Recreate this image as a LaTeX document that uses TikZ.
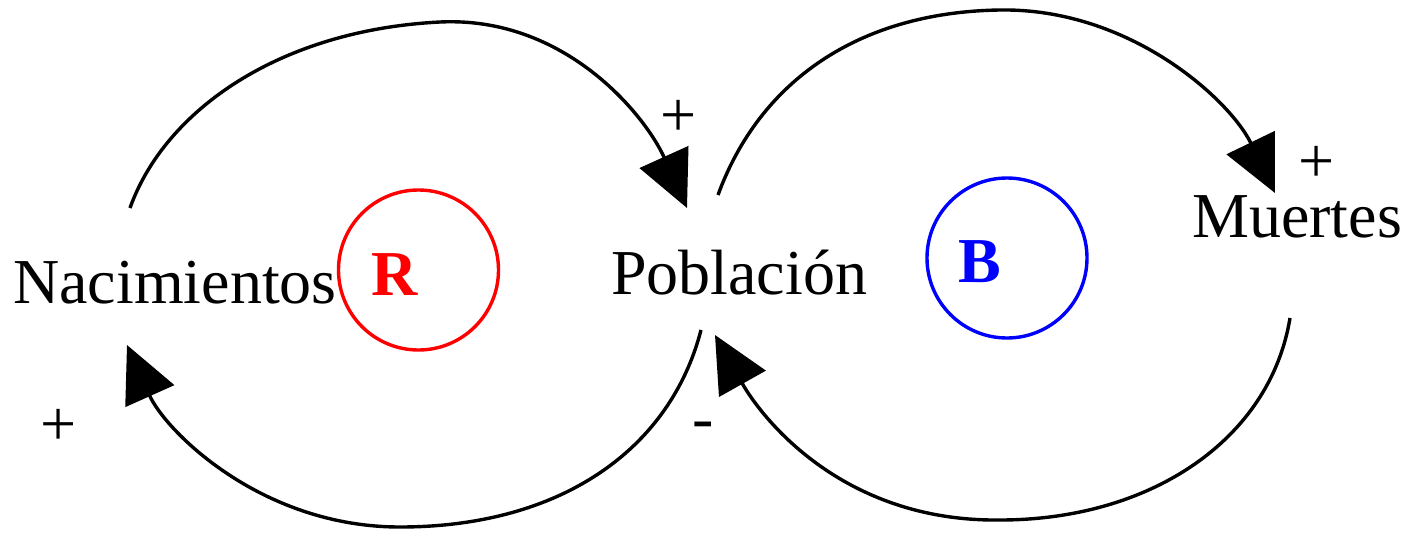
\documentclass[tikz,border=0pt]{standalone}
\usepackage{fontspec}
\setmainfont{Liberation Serif}
\usetikzlibrary{arrows.meta}
\begin{document}
\begin{tikzpicture}[x=1pt,y=-1pt,
  lbl/.style={inner sep=0pt,anchor=base west,font=\fontsize{64}{70}\selectfont},
  looplbl/.style={lbl,font=\fontsize{64}{70}\selectfont\bfseries},
  link/.style={line width=3.4pt,-{Triangle[length=56pt,width=53pt]}},
  loopc/.style={circle,line width=3.4pt,minimum size=160pt,inner sep=0pt}]
\useasboundingbox (0,0) rectangle (1414,533);
% variables
\node[lbl] (nac) at (13,303) {Nacimientos};
\node[lbl] (pob) at (611,294) {Población};
\node[lbl] (mue) at (1192,237) {Muertes};
% loop markers
\node[loopc,draw=red] (rc) at (418.5,270) {};
\node[looplbl,text=red] (rl) at (371,295) {R};
\node[loopc,draw=blue] (bc) at (1007,258) {};
\node[looplbl,text=blue] (bl) at (958,282) {B};
% polarity signs
\node[lbl] (p1) at (660,136) {+};
\node[lbl] (p2) at (1298,182) {+};
\node[lbl] (p3) at (40,445) {+};
\node[lbl] (m1) at (692.5,439) {-};
% links
\draw[link] ([shift={(117,-95)}]nac.base west) .. controls (165,110) and (280,30) .. (440,22)
  .. controls (565,16) and (645,115) .. ([shift={(76,-86)}]pob.base west);
\draw[link] ([shift={(90,36)}]pob.base west) .. controls (670,450) and (560,527) .. (400,527)
  .. controls (260,527) and (165,430) .. ([shift={(114,42)}]nac.base west);
\draw[link] ([shift={(107,-99)}]pob.base west) .. controls (760,80) and (860,12) .. (1000,10)
  .. controls (1130,8) and (1230,100) .. ([shift={(83,-44)}]mue.base west);
\draw[link] ([shift={(98,81)}]mue.base west) .. controls (1270,440) and (1150,520) .. (1000,520)
  .. controls (840,522) and (760,415) .. ([shift={(104,41)}]pob.base west);
\end{tikzpicture}
\end{document}
